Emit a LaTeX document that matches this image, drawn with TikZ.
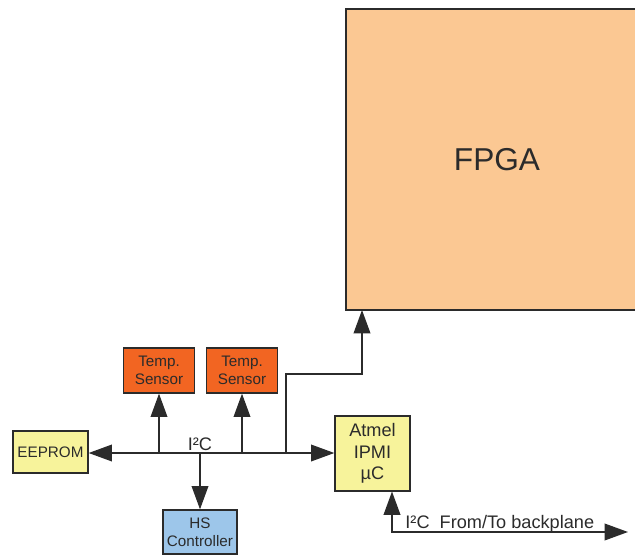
\documentclass[tikz,border=0pt]{standalone}
\usepackage{fontspec}
\setmainfont{Liberation Sans}
\usetikzlibrary{arrows.meta,positioning}
\definecolor{fpgaorange}{HTML}{FBC893}
\definecolor{sensorred}{HTML}{F26522}
\definecolor{chipyellow}{HTML}{F7F39B}
\definecolor{hsblue}{HTML}{9DC6EA}
\definecolor{inkgray}{HTML}{2B2B2B}
\tikzset{
  chip/.style={draw=inkgray,line width=1.1pt,align=center,inner sep=0pt,
    text=inkgray,font=\fontsize{13}{15.5}\selectfont},
  bigtip/.tip={Triangle[length=0.7cm,width=0.5cm]},
  wire/.style={draw=inkgray,line width=1.3pt,-bigtip},
  bothwire/.style={draw=inkgray,line width=1.3pt,bigtip-bigtip},
  lbl/.style={text=inkgray,font=\fontsize{15.5}{18}\selectfont,inner sep=1pt}
}

\begin{document}
\begin{tikzpicture}[x=0.03cm,y=-0.03cm]
      \useasboundingbox (0,0) rectangle (635,556);

      % blocks
      \node (fpga) at (497,159.5) [chip,fill=fpgaorange,minimum width=9.06cm,minimum height=9.03cm,
        font=\fontsize{27}{30}\selectfont] {FPGA};
      \node (ts1) at (159,370.5) [chip,fill=sensorred,minimum width=2.13cm,minimum height=1.35cm] {Temp.\\Sensor};
      \node (ts2) at (242,370.5) [chip,fill=sensorred,minimum width=2.13cm,minimum height=1.35cm] {Temp.\\Sensor};
      \node (eeprom) at (50.5,452) [chip,fill=chipyellow,minimum width=2.25cm,minimum height=1.26cm] {EEPROM};
      \node (hs) at (200,532) [chip,fill=hsblue,minimum width=2.22cm,minimum height=1.32cm] {HS\\Controller};
      \node (atmel) at (372.5,453.5) [chip,fill=chipyellow,minimum width=2.25cm,minimum height=2.25cm,
        font=\fontsize{15.5}{18.5}\selectfont] {Atmel\\IPMI\\µC};

      \coordinate (bus) at (0,453);
      \coordinate (fbend) at (286,374);
      \coordinate (fin) at (362,310);
      \coordinate (bpin) at (392,491.5);
      \coordinate (bpend) at (628,532);

      % I2C bus
      \draw[bothwire] (eeprom.east |- bus) -- (atmel.west |- bus);
      \node (i2c) at (200,452) [lbl,anchor=south] {I²C};
      \draw[wire] (ts1.south |- bus) -- (ts1.south);
      \draw[wire] (ts2.south |- bus) -- (ts2.south);
      \draw[wire] (hs.north |- bus) -- (hs.north);
      \draw[wire] (fbend |- bus) -- (fbend) -| (fin);

      % backplane link
      \draw[bothwire] (bpin) |- (bpend);
      \node (bplbl) at (404,528) [lbl,anchor=base west] {I²C\ \ From/To backplane};
    \end{tikzpicture}
\end{document}
